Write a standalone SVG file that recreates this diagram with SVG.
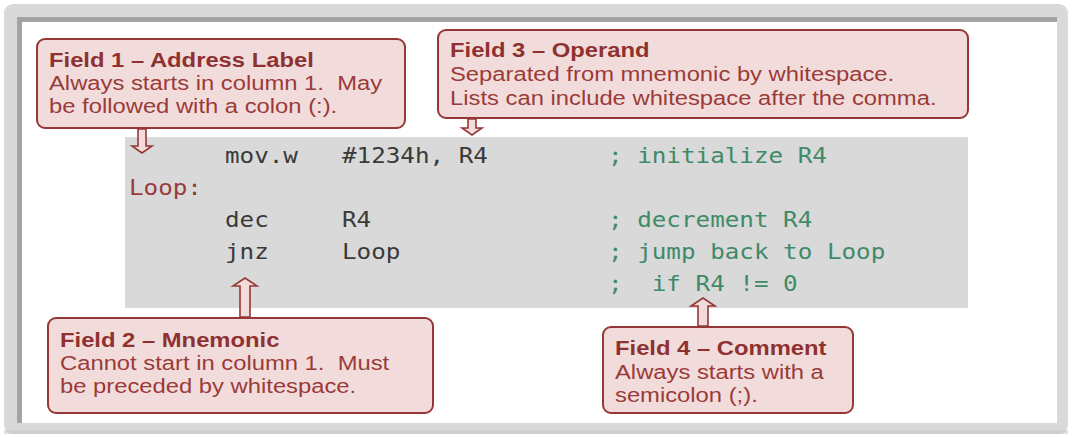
<svg xmlns="http://www.w3.org/2000/svg" width="1072" height="438" viewBox="0 0 1072 438">
  <style>
    .box { fill: #f2dcdb; stroke: #953735; stroke-width: 2; }
    .arrow { fill: #f2dcdb; stroke: #953735; stroke-width: 1.6; stroke-linejoin: miter; }
    .ttl { font-family: "Liberation Sans", Arial, sans-serif; font-size: 20px; font-weight: bold; fill: #8f3130; }
    .bdy { font-family: "Liberation Sans", Arial, sans-serif; font-size: 20px; fill: #9a3b39; }
    .code { font-family: "DejaVu Sans Mono", "Liberation Mono", monospace; font-size: 21px; fill: #3a3a3a; }
    .cmt { fill: #3f8a68; }
    .lbl { fill: #9b3a3a; }
  </style>

  <g id="frame">
    <rect x="4" y="4" width="1064" height="430" rx="9" fill="#d9d9d9"/>
    <rect x="4" y="430" width="1064" height="4" fill="#c8c8c8" opacity="0.6"/>
    <rect x="17" y="17" width="1040" height="406" fill="#a3a3a3"/>
    <rect x="22" y="22" width="1035" height="401" fill="#ffffff"/>
  </g>

  <g id="code-block">
    <rect x="125" y="137" width="843" height="171" fill="#d9d9d9"/>
    <g class="code">
      <text transform="translate(225 163) scale(1.155 1)">mov.w</text>
      <text transform="translate(342 163) scale(1.155 1)">#1234h, R4</text>
      <text class="cmt" transform="translate(608 163) scale(1.155 1)">; initialize R4</text>
      <text class="lbl" transform="translate(129 195) scale(1.155 1)">Loop:</text>
      <text transform="translate(225 227) scale(1.155 1)">dec</text>
      <text transform="translate(342 227) scale(1.155 1)">R4</text>
      <text class="cmt" transform="translate(608 227) scale(1.155 1)">; decrement R4</text>
      <text transform="translate(225 259) scale(1.155 1)">jnz</text>
      <text transform="translate(342 259) scale(1.155 1)">Loop</text>
      <text class="cmt" transform="translate(608 259) scale(1.155 1)">; jump back to Loop</text>
      <text class="cmt" transform="translate(608 291) scale(1.155 1)">;&#160; if R4 != 0</text>
    </g>
  </g>

  <g id="field1">
    <rect class="box" x="37" y="39" width="368" height="89" rx="8"/>
    <g transform="translate(49 0) scale(1.19 1)">
      <text class="ttl" x="0" y="67">Field 1 – Address Label</text>
      <text class="bdy" x="0" y="90">Always starts in column 1.&#160; May</text>
      <text class="bdy" x="0" y="113">be followed with a colon (:).</text>
    </g>
  </g>

  <g id="field3">
    <rect class="box" x="438" y="30" width="530" height="88" rx="8"/>
    <g transform="translate(450 0) scale(1.19 1)">
      <text class="ttl" x="0" y="57">Field 3 – Operand</text>
      <text class="bdy" x="0" y="81">Separated from mnemonic by whitespace.</text>
      <text class="bdy" x="0" y="105">Lists can include whitespace after the comma.</text>
    </g>
  </g>

  <g id="field2">
    <rect class="box" x="48" y="318" width="385" height="95" rx="8"/>
    <g transform="translate(60 0) scale(1.19 1)">
      <text class="ttl" x="0" y="347">Field 2 – Mnemonic</text>
      <text class="bdy" x="0" y="370">Cannot start in column 1.&#160; Must</text>
      <text class="bdy" x="0" y="393">be preceded by whitespace.</text>
    </g>
  </g>

  <g id="field4">
    <rect class="box" x="603" y="327" width="250" height="86" rx="8"/>
    <g transform="translate(615 0) scale(1.19 1)">
      <text class="ttl" x="0" y="355">Field 4 – Comment</text>
      <text class="bdy" x="0" y="379">Always starts with a</text>
      <text class="bdy" x="0" y="402">semicolon (;).</text>
    </g>
  </g>

  <g id="connectors">
    <path class="arrow" d="M138,129 L146,129 L146,146 L152,146 L142,153 L132,146 L138,146 Z"/>
    <path class="arrow" d="M468,119 L476,119 L476,128 L482,128 L472,135 L462,128 L468,128 Z"/>
    <path class="arrow" d="M240,317 L250,317 L250,286 L257,286 L245,278 L233,286 L240,286 Z"/>
    <path class="arrow" d="M698,326 L708,326 L708,306 L715,306 L703,298 L691,306 L698,306 Z"/>
  </g>
</svg>
